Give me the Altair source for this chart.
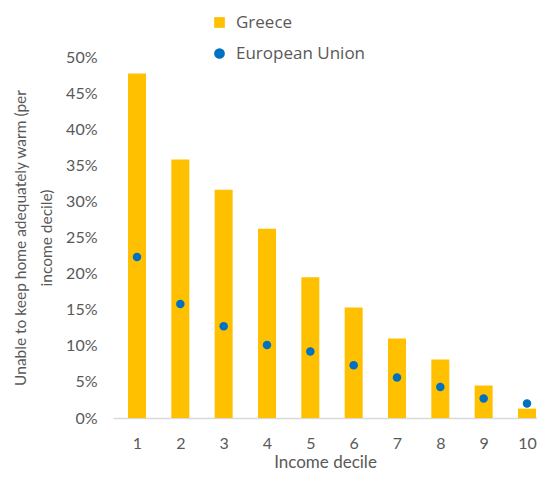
import altair as alt
import pandas as pd

deciles = [1, 2, 3, 4, 5, 6, 7, 8, 9, 10]
greece = [0.477, 0.358, 0.316, 0.262, 0.195, 0.153, 0.110, 0.081, 0.045, 0.013]
eu = [0.223, 0.158, 0.127, 0.101, 0.092, 0.073, 0.056, 0.043, 0.027, 0.020]
series_names = ["Greece", "European Union"]
series_colors = ["#FFC000", "#0070C0"]
y_ticks = [0, 0.05, 0.10, 0.15, 0.20, 0.25, 0.30, 0.35, 0.40, 0.45, 0.50]

df_gr = pd.DataFrame({"decile": deciles, "value": greece, "series": series_names[0]})
df_eu = pd.DataFrame({"decile": deciles, "value": eu, "series": series_names[1]})

color_scale = alt.Scale(domain=series_names, range=series_colors)
shape_scale = alt.Scale(domain=series_names, range=["square", "circle"])

legend = alt.Legend(
    title=None, orient="none", legendX=98, legendY=-43, direction="vertical",
    labelFont="Open Sans", labelFontSize=17, labelColor="#595959",
    symbolSize=115, rowPadding=13, labelOffset=8, padding=0,
)

x_enc = alt.X(
    "decile:Q", title="Income decile",
    scale=alt.Scale(domain=[0.446, 10.231], nice=False, zero=False, padding=0),
    axis=alt.Axis(values=deciles, format="d", labelAngle=0, ticks=False, grid=False,
                  labelFlush=False, domainColor="#D9D9D9", domainWidth=1.3,
                  labelPadding=17, titlePadding=3, titleFontSize=17),
)
y_enc = alt.Y(
    "value:Q", title=["Unable to keep home adequately warm (per", "income decile)"],
    scale=alt.Scale(domain=[0, 0.5], nice=False, padding=0),
    axis=alt.Axis(values=y_ticks, format=".0%", grid=False, domain=False, ticks=False,
                  labelPadding=16, titlePadding=11, titleFontSize=15.5, titleLineHeight=26),
)

bars = alt.Chart(df_gr).mark_bar(size=18, clip=True).encode(
    x=x_enc, y=y_enc,
    color=alt.Color("series:N", scale=color_scale, legend=legend),
)
points = alt.Chart(df_eu).mark_point(filled=True, size=72, opacity=1, clip=True).encode(
    x=x_enc, y=y_enc,
    color=alt.Color("series:N", scale=color_scale, legend=legend),
    shape=alt.Shape("series:N", scale=shape_scale, legend=legend),
)

chart = alt.layer(bars, points).properties(
    width=424, height=361,
    autosize=alt.AutoSizeParams(type="none"),
    padding={"left": 105, "top": 49, "right": 0, "bottom": 56},
).configure_view(
    stroke=None
).configure_axis(
    labelFont="Lato", labelFontSize=16, labelColor="#595959",
    titleFont="Lato", titleFontSize=16, titleColor="#595959", titleFontWeight="normal",
)

chart.save("out.html", embed_options={"renderer": "svg", "actions": False})
